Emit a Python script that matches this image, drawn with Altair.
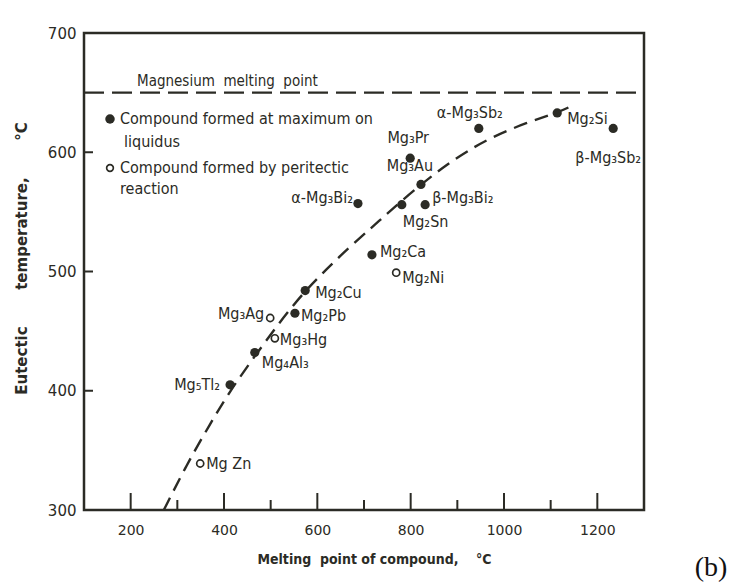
import altair as alt
import pandas as pd

# ---- data ----
names = ["α-Mg₃Sb₂", "Mg₂Si", "β-Mg₃Sb₂", "Mg₃Pr", "Mg₃Au", "β-Mg₃Bi₂", "Mg₂Sn",
         "α-Mg₃Bi₂", "Mg₂Ca", "Mg₂Ni", "Mg₂Cu", "Mg₃Ag", "Mg₂Pb", "Mg₃Hg",
         "Mg₄Al₃", "Mg₅Tl₂", "Mg Zn"]
melting = [946, 1114, 1234, 799, 822, 831, 781, 687, 717, 769, 574, 499, 552, 509, 466, 413, 349]
eutectic = [620, 633, 620, 595, 573, 556, 556, 557, 514, 499, 484, 461, 465, 444, 432, 405, 339]
kind = ["max", "max", "max", "max", "max", "max", "max", "max", "max", "peri",
        "max", "peri", "max", "peri", "max", "max", "peri"]

curve_x = [271, 320, 370, 413, 466, 520, 574, 620, 670, 720, 762, 822, 878, 930, 976, 1049, 1114, 1146]
curve_y = [300, 338, 372, 400, 429, 458, 484, 502, 521, 538, 553, 573, 590, 603, 613, 625, 633, 639]

mg_melting = [650]
x_major = [200, 400, 600, 800, 1000, 1200]
x_minor = [300, 500, 700, 900, 1100]
y_ticks = [300, 400, 500, 600, 700]
y_inner = [400, 500, 600]

# ---- label placement (style only): dx, dy, align ----
place = {
    "α-Mg₃Sb₂": (-9, -15, "center"), "Mg₂Si": (10, 6, "left"), "β-Mg₃Sb₂": (-5, 30, "center"),
    "Mg₃Pr": (-2, -20, "center"), "Mg₃Au": (-11, -18, "center"), "β-Mg₃Bi₂": (7, -7, "left"),
    "Mg₂Sn": (1, 17, "left"), "α-Mg₃Bi₂": (-5, -6, "right"), "Mg₂Ca": (8, -3, "left"),
    "Mg₂Ni": (6, 5, "left"), "Mg₂Cu": (10, 2, "left"), "Mg₃Ag": (-6, -4, "right"),
    "Mg₂Pb": (6, 3, "left"), "Mg₃Hg": (5, 2, "left"), "Mg₄Al₃": (7, 10, "left"),
    "Mg₅Tl₂": (-10, 0, "right"), "Mg Zn": (6, 1, "left"),
}

W, H = 560, 477
INK = "#2b2b25"
FONT = "DejaVu Sans Condensed"
SP = "\u00a0"

pts = pd.DataFrame({"name": names, "melting": melting, "eutectic": eutectic, "kind": kind})
curve = pd.DataFrame({"x": curve_x, "y": curve_y, "order": list(range(len(curve_x)))})

xs = alt.Scale(domain=[100, 1300], nice=False, zero=False)
ys = alt.Scale(domain=[300, 700], nice=False, zero=False)

base = alt.Chart(pts)

x_title = "Melting" + SP * 2 + "point" + SP + "of" + SP + "compound," + SP * 4 + "°C"
y_title = "Eutectic" + SP * 7 + "temperature," + SP * 7 + "°C"

filled = base.transform_filter(alt.datum.kind == "max").mark_point(
    filled=True, shape="circle", size=85, color=INK, opacity=1
).encode(
    x=alt.X("melting:Q", scale=xs,
            axis=alt.Axis(values=x_major, format="d", tickSize=0, domain=False, grid=False,
                          labelFont="DejaVu Sans", labelFontSize=14, labelColor=INK, labelPadding=13,
                          title=x_title, titleFont=FONT,
                          titleFontSize=14, titleFontWeight="bold", titleColor=INK, titlePadding=15,
                          titleX=290)),
    y=alt.Y("eutectic:Q", scale=ys,
            axis=alt.Axis(values=y_ticks, format="d", tickSize=0, domain=False, grid=False,
                          labelFont="DejaVu Sans", labelFontSize=15, labelColor=INK, labelPadding=8,
                          title=y_title, titleFont="DejaVu Sans",
                          titleFontSize=15, titleFontWeight="bold", titleColor=INK,
                          titleX=-55, titleY=225, titleAngle=270)),
)

opened = base.transform_filter(alt.datum.kind == "peri").mark_point(
    filled=False, shape="circle", size=50, color=INK, strokeWidth=1.7, opacity=1
).encode(x=alt.X("melting:Q", scale=xs), y=alt.Y("eutectic:Q", scale=ys))

label_layers = []
for nm, (dx, dy, al) in place.items():
    label_layers.append(
        base.transform_filter(alt.datum.name == nm).mark_text(
            dx=dx, dy=dy, align=al, baseline="middle", font=FONT, fontSize=16, color=INK
        ).encode(x=alt.X("melting:Q", scale=xs), y=alt.Y("eutectic:Q", scale=ys), text="name:N")
    )

curve_line = alt.Chart(curve).mark_line(
    color=INK, strokeWidth=2.4, strokeDash=[14, 8], interpolate="basis"
).encode(x=alt.X("x:Q", scale=xs), y=alt.Y("y:Q", scale=ys), order="order:Q")

melt_line = alt.Chart(pd.DataFrame({"y": mg_melting})).mark_rule(
    color=INK, strokeWidth=2.4, strokeDash=[20, 8]
).encode(y=alt.Y("y:Q", scale=ys), x=alt.value(0), x2=alt.value(W))

major_ticks = alt.Chart(pd.DataFrame({"x": x_major})).mark_rule(color=INK, strokeWidth=2).encode(
    x=alt.X("x:Q", scale=xs), y=alt.value(H), y2=alt.value(H - 17))
minor_ticks = alt.Chart(pd.DataFrame({"x": x_minor})).mark_rule(color=INK, strokeWidth=2).encode(
    x=alt.X("x:Q", scale=xs), y=alt.value(H), y2=alt.value(H - 10))
y_tick_marks = alt.Chart(pd.DataFrame({"y": y_inner})).mark_rule(color=INK, strokeWidth=2).encode(
    y=alt.Y("y:Q", scale=ys), x=alt.value(0), x2=alt.value(9))

# annotation / legend texts (pixel positions)
ann = alt.Chart(pd.DataFrame({"t": ["Magnesium" + SP * 2 + "melting" + SP * 2 + "point"]})).mark_text(
    align="left", baseline="middle", font=FONT, fontSize=15, color=INK
).encode(x=alt.value(53), y=alt.value(48), text="t:N")

leg_text = alt.Chart(pd.DataFrame({
    "t": ["Compound  formed  at  maximum  on", "liquidus",
          "Compound  formed  by  peritectic", "reaction"],
    "px": [36, 40, 36, 36], "py": [86, 109, 135, 156]})).mark_text(
    align="left", baseline="middle", font=FONT, fontSize=16, color=INK
).encode(x=alt.X("px:Q", scale=None), y=alt.Y("py:Q", scale=None), text="t:N")

leg_filled = alt.Chart(pd.DataFrame({"a": [0]})).mark_point(
    filled=True, shape="circle", size=90, color=INK, opacity=1
).encode(x=alt.value(26), y=alt.value(86))
leg_open = alt.Chart(pd.DataFrame({"a": [0]})).mark_point(
    filled=False, shape="circle", size=45, color=INK, strokeWidth=1.7, opacity=1
).encode(x=alt.value(26), y=alt.value(135))

panel_b = alt.Chart(pd.DataFrame({"t": ["(b)"]})).mark_text(
    align="center", baseline="middle", font="Liberation Serif", fontSize=28, color="#111"
).encode(x=alt.value(627), y=alt.value(535), text="t:N")

chart = alt.layer(
    filled, melt_line, curve_line, opened, *label_layers, major_ticks, minor_ticks, y_tick_marks,
    ann, leg_text, leg_filled, leg_open, panel_b
).properties(
    width=W, height=H,
    autosize=alt.AutoSizeParams(type="none"),
    padding={"left": 84, "top": 33, "right": 87, "bottom": 75},
    background="white",
).configure_view(stroke=INK, strokeWidth=2.5)

chart.save("out.html", embed_options={"renderer": "svg", "actions": False})
